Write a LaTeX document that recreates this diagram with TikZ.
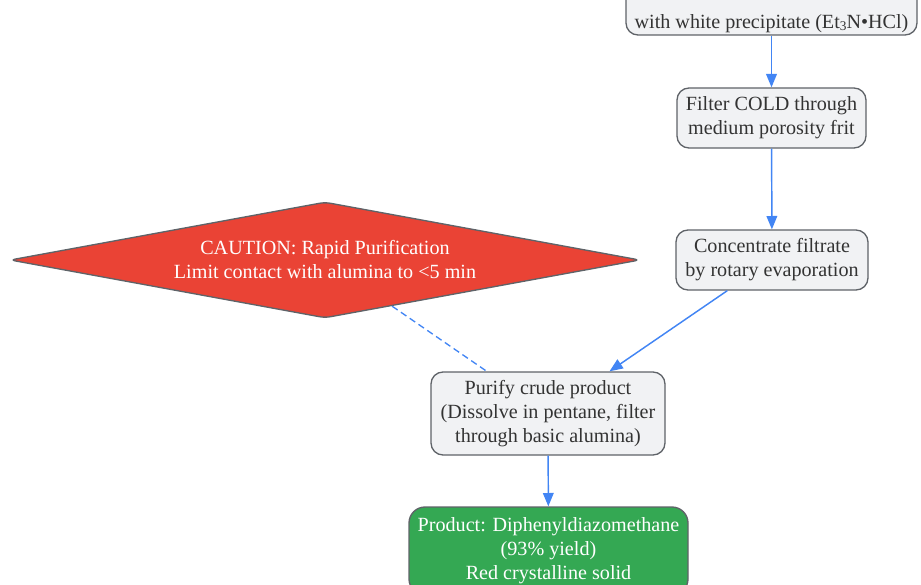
\documentclass[tikz,border=0pt]{standalone}
\usepackage{fontspec}
\setmainfont{Liberation Serif}
\usetikzlibrary{shapes.geometric,arrows.meta}
\definecolor{boxfill}{HTML}{F1F2F4}
\definecolor{boxdraw}{HTML}{5F6368}
\definecolor{edgeblue}{HTML}{4285F4}
\definecolor{warnred}{HTML}{EA4335}
\definecolor{okgreen}{HTML}{34A853}
\definecolor{txt}{HTML}{333333}
\begin{document}
\begin{tikzpicture}[x=0.75pt,y=-0.75pt,
  base/.style={line width=1pt, align=center, inner sep=0pt,
    font=\fontsize{15.1}{18}\selectfont},
  stepbox/.style={base, draw=boxdraw, fill=boxfill, rounded corners=9pt, text=txt},
  goodbox/.style={base, draw=boxdraw, fill=okgreen, rounded corners=12pt, text=white},
  warnbox/.style={base, diamond, aspect=5.43, draw=boxdraw, fill=warnred, text=white,
    rounded corners=4pt},
  flow/.style={draw=edgeblue, line width=1.1pt, -{Triangle[length=10pt,width=8pt]}},
  note/.style={draw=edgeblue, line width=1pt, dashed, dash pattern=on 5pt off 3pt}
]
\useasboundingbox (0,0) rectangle (921,585);
\clip (0,0) rectangle (921,585);

\node[stepbox, minimum width=218.25pt, minimum height=37.5pt] (mix) at (771.5,10)
  {\strut\\with white precipitate (Et\raisebox{-0.2ex}{\fontsize{10}{10}\selectfont 3}N•HCl)};
\node[stepbox, minimum width=141.75pt, minimum height=45pt] (filt) at (771.5,118)
  {Filter COLD through\\medium porosity frit};
\node[stepbox, minimum width=144pt, minimum height=45pt] (conc) at (772,260)
  {Concentrate filtrate\\by rotary evaporation};
\node[warnbox, minimum width=472.5pt, minimum height=87pt] (warn) at (325,260)
  {CAUTION: Rapid Purification\\Limit contact with alumina to <5 min};
\node[stepbox, minimum width=175.5pt, minimum height=62.25pt] (pur) at (548,413.5)
  {Purify crude product\\(Dissolve in pentane, filter\\through basic alumina)};
\node[goodbox, minimum width=209.25pt, minimum height=66pt] (prod) at (548.5,551)
  {Product: Diphenyldiazomethane\\(93\% yield)\\Red crystalline solid};

\draw[flow] (mix) -- (filt);
\draw[flow] (filt) -- (conc);
\draw[flow] (conc) -- (pur);
\draw[note] (warn) -- (pur);
\draw[flow] (pur) -- (prod);
\end{tikzpicture}
\end{document}
